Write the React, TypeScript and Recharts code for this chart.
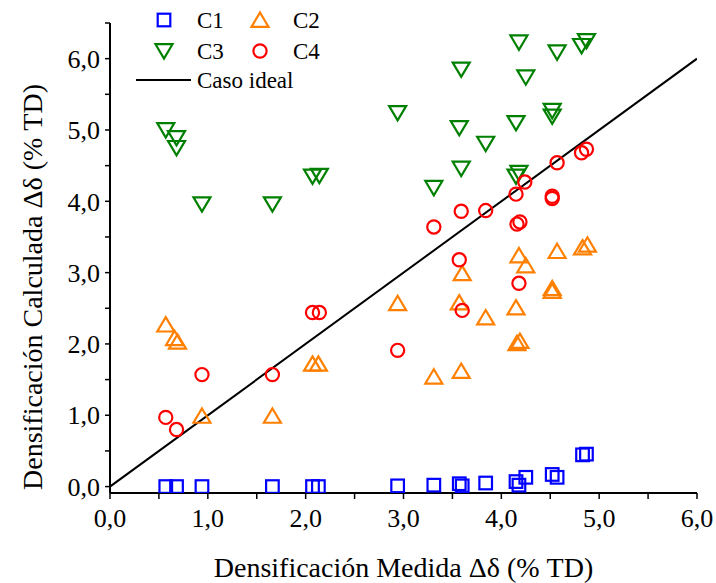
import React from 'react';
import { ScatterChart, Scatter, XAxis, YAxis, Legend, Label } from 'recharts';

const FONT = '"Liberation Serif", "Times New Roman", Times, serif';

// Measured densification (x) and calculated densification (y), % TD
const c1X = [0.57, 0.68, 0.94, 1.66, 2.07, 2.13, 2.94, 3.31, 3.57, 3.6, 3.84, 4.15, 4.18, 4.25, 4.52, 4.57, 4.83, 4.87];
const c1Y = [0.0, 0.0, 0.0, 0.0, 0.0, 0.0, 0.01, 0.02, 0.04, 0.01, 0.05, 0.07, 0.02, 0.13, 0.17, 0.13, 0.445, 0.455];

const c2X = [0.57, 0.66, 0.69, 0.94, 1.66, 2.07, 2.13, 2.94, 3.31, 3.57, 3.6, 3.59, 3.84, 4.15, 4.16, 4.19, 4.18, 4.25, 4.52, 4.52, 4.57, 4.83, 4.88];
const c2Y = [2.27, 2.08, 2.03, 0.99, 0.99, 1.72, 1.72, 2.57, 1.54, 2.58, 2.99, 1.62, 2.37, 2.51, 2.01, 2.04, 3.24, 3.1, 2.78, 2.74, 3.3, 3.35, 3.39];

const c3X = [0.57, 0.68, 0.68, 0.94, 1.66, 2.07, 2.14, 2.94, 3.31, 3.57, 3.59, 3.59, 3.84, 4.15, 4.15, 4.18, 4.18, 4.25, 4.52, 4.52, 4.57, 4.82, 4.87];
const c3Y = [5.0, 4.89, 4.75, 3.96, 3.96, 4.35, 4.36, 5.24, 4.19, 5.03, 5.85, 4.46, 4.81, 5.1, 4.35, 4.4, 6.23, 5.74, 5.27, 5.19, 6.09, 6.18, 6.25];

const c4X = [0.57, 0.68, 0.94, 1.66, 2.07, 2.14, 2.94, 3.31, 3.57, 3.59, 3.6, 3.84, 4.15, 4.16, 4.19, 4.18, 4.24, 4.52, 4.52, 4.57, 4.82, 4.87];
const c4Y = [0.97, 0.8, 1.57, 1.57, 2.44, 2.44, 1.91, 3.64, 3.18, 3.86, 2.47, 3.87, 4.1, 3.68, 3.71, 2.85, 4.27, 4.07, 4.04, 4.54, 4.68, 4.73];

// Ideal case: calculated equals measured
const idealX = [0, 6];
const idealY = [0, 6];

const xTicks = [0, 0.5, 1, 1.5, 2, 2.5, 3, 3.5, 4, 4.5, 5, 5.5, 6];
const yTicks = [0, 0.5, 1, 1.5, 2, 2.5, 3, 3.5, 4, 4.5, 5, 5.5, 6, 6.5];

const seriesNames = ['C1', 'C2', 'C3', 'C4'];
const idealName = 'Caso ideal';
const xTitle = 'Densificación Medida Δδ (% TD)';
const yTitle = 'Densificación Calculada Δδ (% TD)';

const BLUE = '#0000FF';
const ORANGE = '#FF8000';
const GREEN = '#008000';
const RED = '#FF0000';

const toPoints = (xs: number[], ys: number[]) => xs.map((x, i) => ({ x, y: ys[i] }));

const fmt = (v: number) => (Number.isInteger(v) ? v.toFixed(1).replace('.', ',') : '');

type Kind = 'square' | 'up' | 'down' | 'circle';

function Marker({ kind, cx, cy, color }: { kind: Kind; cx: number; cy: number; color: string }) {
  const sw = 2.2;
  if (kind === 'square') {
    return <rect x={cx - 6.3} y={cy - 6.3} width={12.6} height={12.6} fill="none" stroke={color} strokeWidth={sw} />;
  }
  if (kind === 'up') {
    return (
      <polygon
        points={`${cx},${cy - 7.5} ${cx + 8.5},${cy + 6.8} ${cx - 8.5},${cy + 6.8}`}
        fill="none"
        stroke={color}
        strokeWidth={sw}
        strokeLinejoin="miter"
      />
    );
  }
  if (kind === 'down') {
    return (
      <polygon
        points={`${cx - 8.5},${cy - 6.8} ${cx + 8.5},${cy - 6.8} ${cx},${cy + 7.5}`}
        fill="none"
        stroke={color}
        strokeWidth={sw}
        strokeLinejoin="miter"
      />
    );
  }
  return <circle cx={cx} cy={cy} r={6.6} fill="none" stroke={color} strokeWidth={sw} />;
}

const makeShape = (kind: Kind, color: string) => (props: any) => (
  <Marker kind={kind} cx={props.cx} cy={props.cy} color={color} />
);

const legendItems: { name: string; kind: Kind; color: string; col: number; row: number }[] = [
  { name: seriesNames[0], kind: 'square', color: BLUE, col: 0, row: 0 },
  { name: seriesNames[1], kind: 'up', color: ORANGE, col: 1, row: 0 },
  { name: seriesNames[2], kind: 'down', color: GREEN, col: 0, row: 1 },
  { name: seriesNames[3], kind: 'circle', color: RED, col: 1, row: 1 },
];

function LegendBox() {
  const symX = 164;
  const colW = 96;
  const textDx = 33;
  const rowY = [20, 51, 80];
  return (
    <svg width={340} height={100} style={{ display: 'block', overflow: 'visible' }}>
      {legendItems.map((it) => {
        const sx = symX + it.col * colW;
        const sy = rowY[it.row];
        return (
          <g key={it.name}>
            <Marker kind={it.kind} cx={sx} cy={sy} color={it.color} />
            <text x={sx + textDx} y={sy + 8} fontFamily={FONT} fontSize={23} fill="#000">
              {it.name}
            </text>
          </g>
        );
      })}
      <line x1={136} x2={191} y1={rowY[2]} y2={rowY[2]} stroke="#000" strokeWidth={2} />
      <text x={symX + textDx} y={rowY[2] + 8} fontFamily={FONT} fontSize={23} fill="#000">
        {idealName}
      </text>
    </svg>
  );
}

function XTitle(props: any) {
  const vb = props.viewBox || { x: 0, y: 0, width: 0, height: 0 };
  return (
    <text
      x={vb.x + vb.width / 2}
      y={vb.y + 84}
      textAnchor="middle"
      fontFamily={FONT}
      fontSize={28}
      fill="#000"
    >
      {xTitle}
    </text>
  );
}

function YTitle(props: any) {
  const vb = props.viewBox || { x: 0, y: 0, width: 0, height: 0 };
  const cx = vb.x + 42;
  const cy = vb.y + vb.height / 2 + 29;
  return (
    <text
      x={cx}
      y={cy}
      transform={`rotate(-90, ${cx}, ${cy})`}
      textAnchor="middle"
      fontFamily={FONT}
      fontSize={28}
      fill="#000"
    >
      {yTitle}
    </text>
  );
}

const tickStyle = { fontFamily: FONT, fontSize: 26, fill: '#000' };

export default function App() {
  return (
    <div style={{ position: 'fixed', left: 0, top: 0, width: 716, height: 583, background: '#fff' }}>
      <ScatterChart width={716} height={583} margin={{ top: 23, right: 19, bottom: 0, left: 0 }}>
        <XAxis
          type="number"
          dataKey="x"
          domain={[0, 6]}
          ticks={xTicks}
          interval={0}
          allowDataOverflow
          height={90}
          tickFormatter={fmt}
          tick={tickStyle}
          tickSize={6}
          tickMargin={10}
          axisLine={{ stroke: '#000', strokeWidth: 2 }}
          tickLine={{ stroke: '#000', strokeWidth: 1.5 }}
        >
          <Label content={<XTitle />} />
        </XAxis>
        <YAxis
          type="number"
          dataKey="y"
          domain={[-0.09, 6.5]}
          ticks={yTicks}
          interval={0}
          allowDataOverflow
          width={110}
          tickFormatter={fmt}
          tick={tickStyle}
          tickSize={5}
          tickMargin={5}
          axisLine={{ stroke: '#000', strokeWidth: 2 }}
          tickLine={{ stroke: '#000', strokeWidth: 1.5 }}
        >
          <Label content={<YTitle />} />
        </YAxis>
        <Legend
          layout="vertical"
          align="center"
          verticalAlign="middle"
          wrapperStyle={{ position: 'absolute', top: 0, left: 0, width: 340, height: 100 }}
          content={() => <LegendBox />}
        />
        <Scatter
          name={idealName}
          data={toPoints(idealX, idealY)}
          line={{ stroke: '#000', strokeWidth: 2 }}
          shape={() => <g />}
          legendType="none"
          isAnimationActive={false}
        />
        <Scatter name={seriesNames[0]} data={toPoints(c1X, c1Y)} shape={makeShape('square', BLUE)} isAnimationActive={false} />
        <Scatter name={seriesNames[1]} data={toPoints(c2X, c2Y)} shape={makeShape('up', ORANGE)} isAnimationActive={false} />
        <Scatter name={seriesNames[2]} data={toPoints(c3X, c3Y)} shape={makeShape('down', GREEN)} isAnimationActive={false} />
        <Scatter name={seriesNames[3]} data={toPoints(c4X, c4Y)} shape={makeShape('circle', RED)} isAnimationActive={false} />
      </ScatterChart>
    </div>
  );
}
